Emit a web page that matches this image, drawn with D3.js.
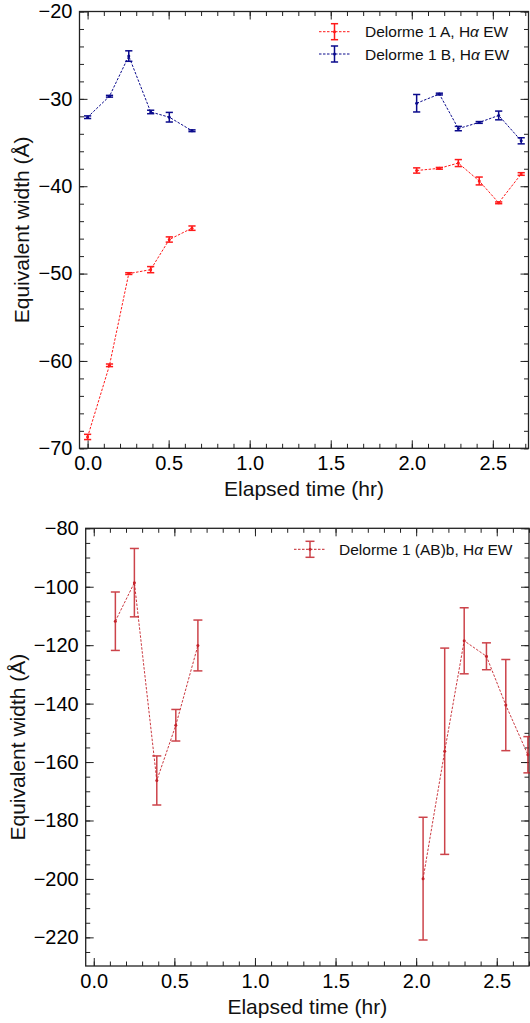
<!DOCTYPE html>
<html>
<head>
<meta charset="utf-8">
<script src="https://cdn.jsdelivr.net/npm/d3@7"></script>
<style>
  html, body { margin: 0; padding: 0; background: #fff; }
  svg { display: block; font-family: "Liberation Sans", Arial, sans-serif; }
</style>
</head>
<body>
<svg id="chart" width="530" height="1023"></svg>
<script>
// ---- Data ----
// Top panel: components A and B
const timesTop = [0.0, 0.135, 0.254, 0.389, 0.504, 0.644, 2.030, 2.170, 2.287, 2.416, 2.536, 2.675];
const ewA      = [-68.7, -60.5, -50.0, -49.55, -46.1, -44.8, -38.2, -37.95, -37.35, -39.4, -41.9, -38.6];
const errA     = [0.3, 0.15, 0.1, 0.35, 0.3, 0.25, 0.3, 0.1, 0.4, 0.45, 0.1, 0.15];
const ewB      = [-32.1, -29.7, -25.1, -31.5, -32.1, -33.65, -30.5, -29.45, -33.4, -32.7, -31.9, -34.8];
const errB     = [0.15, 0.1, 0.6, 0.2, 0.55, 0.1, 1.0, 0.1, 0.25, 0.1, 0.5, 0.35];
// Bottom panel: (AB)b
const timesBot = [0.134, 0.252, 0.391, 0.509, 0.646, 2.043, 2.177, 2.298, 2.436, 2.556, 2.693];
const ewAB     = [-111.8, -98.6, -166.3, -147.4, -120.1, -199.9, -156.3, -118.5, -123.8, -140.5, -157.5];
const errAB    = [10, 11.7, 8.4, 5.4, 8.7, 21, 35.3, 11.3, 4.6, 15.6, 6.2];

const labelsTop = ["Delorme 1 A, H", "Delorme 1 B, H"];
const labelsBot = ["Delorme 1 (AB)b, H"];
const xTicks = [0.0, 0.5, 1.0, 1.5, 2.0, 2.5];
const yTicksTop = [-70, -60, -50, -40, -30, -20];
const yTicksBot = [-220, -200, -180, -160, -140, -120, -100, -80];
const xLabel = "Elapsed time (hr)";
const yLabel = "Equivalent width (Å)";

const svg = d3.select("#chart");
const fmtX = d3.format(".1f");
const fmtY = d => d3.format("d")(d).replace("-", "\u2212");

function drawPanel(p) {
  const x = d3.scaleLinear().domain(p.xDomain).range([p.left, p.right]);
  const y = d3.scaleLinear().domain(p.yDomain).range([p.bottom, p.top]);
  const g = svg.append("g");
  const minorX = d3.range(0, 2.75, 0.1).filter(v => v >= p.xDomain[0] && v <= p.xDomain[1]);
  const minorY = d3.range(p.yDomain[0], p.yDomain[1] + 0.001, p.yMinor).map(v => Math.round(v * 10) / 10)
    .filter(v => v >= Math.ceil(p.yDomain[0]));
  const tickCol = "#222";
  const MAJ = 8, MIN = 4.5;

  function axisGroup(axis, tx, ty) {
    const a = g.append("g").attr("transform", `translate(${tx},${ty})`).call(axis);
    a.select(".domain").remove();
    a.selectAll("line").attr("stroke", tickCol).attr("stroke-width", 1);
    return a;
  }
  // minor ticks (pointing inward)
  const mY = d3.range(Math.ceil(p.yDomain[0] / p.yMinor) * p.yMinor, p.yDomain[1] + 0.001, p.yMinor);
  axisGroup(d3.axisBottom(x).tickValues(minorX).tickSize(-MIN).tickFormat(""), 0, p.bottom);
  axisGroup(d3.axisTop(x).tickValues(minorX).tickSize(-MIN).tickFormat(""), 0, p.top);
  axisGroup(d3.axisLeft(y).tickValues(mY).tickSize(-MIN).tickFormat(""), p.left, 0);
  axisGroup(d3.axisRight(y).tickValues(mY).tickSize(-MIN).tickFormat(""), p.right, 0);
  // major ticks
  const bx = axisGroup(d3.axisBottom(x).tickValues(xTicks).tickSize(-MAJ).tickPadding(8).tickFormat(fmtX), 0, p.bottom);
  axisGroup(d3.axisTop(x).tickValues(xTicks).tickSize(-MAJ).tickFormat(""), 0, p.top);
  const ly = axisGroup(d3.axisLeft(y).tickValues(p.yTicks).tickSize(-MAJ).tickPadding(7).tickFormat(fmtY), p.left, 0);
  axisGroup(d3.axisRight(y).tickValues(p.yTicks).tickSize(-MAJ).tickFormat(""), p.right, 0);
  [bx, ly].forEach(a => a.selectAll("text")
    .attr("fill", "#000").style("font-size", "20px").style("font-family", '"Liberation Sans", Arial, sans-serif'));

  // frame
  g.append("rect").attr("x", p.left).attr("y", p.top)
    .attr("width", p.right - p.left).attr("height", p.bottom - p.top)
    .attr("fill", "none").attr("stroke", tickCol).attr("stroke-width", 1.3);

  // axis labels
  g.append("text").attr("x", (p.left + p.right) / 2).attr("y", p.bottom + 48)
    .attr("text-anchor", "middle").style("font-size", "21px").attr("fill", "#111").text(xLabel);
  g.append("text").attr("transform", `translate(${p.yLabelX},${(p.top + p.bottom) / 2}) rotate(-90)`)
    .attr("text-anchor", "middle").style("font-size", "21px").attr("fill", "#111").text(yLabel);

  // series
  p.series.forEach(s => {
    const pts = s.t.map((t, i) => ({ t, v: s.v[i], e: s.e[i] }));
    // split into observing blocks where the time gap is large
    const segs = [[]];
    pts.forEach((d, i) => {
      if (i > 0 && d.t - pts[i - 1].t > 0.5) segs.push([]);
      segs[segs.length - 1].push(d);
    });
    const sg = g.append("g");
    sg.selectAll("path.seg").data(segs).join("path").attr("class", "seg")
      .attr("d", d3.line().x(d => x(d.t)).y(d => y(d.v)))
      .attr("fill", "none").attr("stroke", s.color).attr("stroke-width", 1)
      .attr("stroke-dasharray", "2.5,1.5").attr("opacity", s.lineOpacity);
    const eb = sg.selectAll("g.eb").data(pts).join("g").attr("class", "eb")
      .attr("stroke", s.color).attr("stroke-width", 1.5).attr("opacity", s.ebOpacity);
    eb.append("line").attr("x1", d => x(d.t)).attr("x2", d => x(d.t))
      .attr("y1", d => y(d.v - d.e)).attr("y2", d => y(d.v + d.e));
    eb.append("line").attr("x1", d => x(d.t) - s.cap).attr("x2", d => x(d.t) + s.cap)
      .attr("y1", d => y(d.v - d.e)).attr("y2", d => y(d.v - d.e));
    eb.append("line").attr("x1", d => x(d.t) - s.cap).attr("x2", d => x(d.t) + s.cap)
      .attr("y1", d => y(d.v + d.e)).attr("y2", d => y(d.v + d.e));
    sg.selectAll("circle").data(pts).join("circle")
      .attr("cx", d => x(d.t)).attr("cy", d => y(d.v)).attr("r", 1.5).attr("fill", s.color);
  });

  // legend
  p.series.forEach((s, i) => {
    const ly0 = p.legend.y + i * p.legend.dy;
    const lg = g.append("g");
    lg.append("line").attr("x1", p.legend.x1).attr("x2", p.legend.x2).attr("y1", ly0).attr("y2", ly0)
      .attr("stroke", s.color).attr("stroke-width", 1).attr("stroke-dasharray", "2.5,1.5");
    const cx = (p.legend.x1 + p.legend.x2) / 2;
    const lgE = lg.append("g").attr("stroke", s.color).attr("stroke-width", 1.5).attr("opacity", s.ebOpacity);
    lgE.append("line").attr("x1", cx).attr("x2", cx).attr("y1", ly0 - 8).attr("y2", ly0 + 8);
    lgE.append("line").attr("x1", cx - s.cap).attr("x2", cx + s.cap).attr("y1", ly0 - 8).attr("y2", ly0 - 8);
    lgE.append("line").attr("x1", cx - s.cap).attr("x2", cx + s.cap).attr("y1", ly0 + 8).attr("y2", ly0 + 8);
    lg.append("circle").attr("cx", cx).attr("cy", ly0).attr("r", 1.5).attr("fill", s.color);
    const t = lg.append("text").attr("x", p.legend.tx).attr("y", ly0 + 5.5)
      .style("font-size", "15.5px").attr("fill", "#111");
    t.append("tspan").text(s.label);
    t.append("tspan").style("font-style", "italic").text("\u03B1");
    t.append("tspan").text(" EW");
  });
}

drawPanel({
  left: 79.5, right: 528.5, top: 11.5, bottom: 448.3,
  xDomain: [-0.05, 2.72], yDomain: [-70, -20], yTicks: yTicksTop, yMinor: 2,
  yLabelX: 29,
  legend: { x1: 319, x2: 350, tx: 365, y: 31.7, dy: 22.3 },
  series: [
    { t: timesTop, v: ewA, e: errA, color: "#ff1a1a", label: labelsTop[0], cap: 3.6, lineOpacity: 1, ebOpacity: 1 },
    { t: timesTop, v: ewB, e: errB, color: "#0a0a8c", label: labelsTop[1], cap: 3.6, lineOpacity: 1, ebOpacity: 1 }
  ]
});

drawPanel({
  left: 85.7, right: 529, top: 528.3, bottom: 966,
  xDomain: [-0.05, 2.70], yDomain: [-229.8, -80], yTicks: yTicksBot, yMinor: 5,
  yLabelX: 25,
  legend: { x1: 294, x2: 326, tx: 339, y: 549.3, dy: 0 },
  series: [
    { t: timesBot, v: ewAB, e: errAB, color: "#c4232b", label: labelsBot[0], cap: 4.5, lineOpacity: 0.9, ebOpacity: 0.85 }
  ]
});
</script>
</body>
</html>
